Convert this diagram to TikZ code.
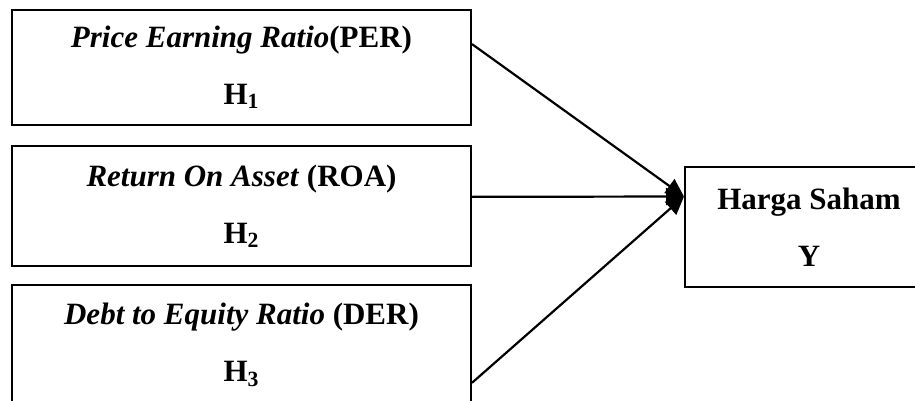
\documentclass[tikz,border=0pt]{standalone}
\usepackage{fontspec}
\setmainfont{Liberation Serif}
\usetikzlibrary{arrows.meta,calc}
\begin{document}
\begin{tikzpicture}[x=0.5pt,y=-0.5pt]
\tikzset{var/.style={draw, line width=1pt, inner sep=0pt, align=center, font=\fontsize{15.5}{28.5}\selectfont},
  link/.style={line width=1.1pt, -{Triangle[length=9pt,width=8.5pt]}}}
\useasboundingbox (0,0) rectangle (915,401);
\node[var, minimum width=229.5pt, minimum height=57.5pt] (per) at (241.5,67.5){\textbf{\textit{Price Earning Ratio}(PER)}\\\textbf{H\textsubscript{1}}};
\node[var, minimum width=229.5pt, minimum height=60pt] (roa) at (241.5,206){\textbf{\textit{Return On Asset} (ROA)}\\\textbf{H\textsubscript{2}}};
\node[var, minimum width=229.5pt, minimum height=60pt] (der) at (241.5,345){\textbf{\textit{Debt to Equity Ratio} (DER)}\\\textbf{H\textsubscript{3}}};
\node[var, minimum width=124pt, minimum height=60pt, anchor=west] (hs) at (684,227){\textbf{Harga Saham}\\\textbf{Y}};
\coordinate (tip) at ($(hs.north west)!0.25!(hs.south west)$);
\draw[link] ($(per.north east)!0.3!(per.south east)$) -- (tip);
\draw[link] ($(roa.north east)!0.425!(roa.south east)$) -- (tip);
\draw[link] ($(der.north east)!0.81!(der.south east)$) -- (tip);
\end{tikzpicture}
\end{document}
